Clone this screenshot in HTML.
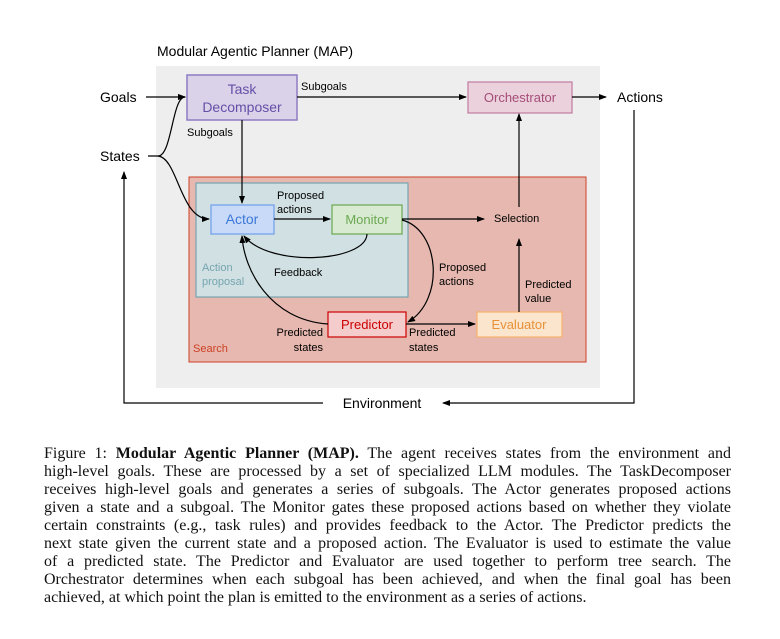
<!DOCTYPE html>
<html><head><meta charset="utf-8"><style>
body{margin:0;background:#fff;width:780px;height:639px;position:relative;overflow:hidden}
svg{position:absolute;left:0;top:0}
.cap{position:absolute;left:44px;width:687px;font-family:"Liberation Serif",serif;font-size:16px;line-height:18px;color:#111}
.cap div{text-align:justify;text-align-last:justify;white-space:nowrap;height:18px}
.cap div.l{text-align-last:left}
</style></head><body>
<svg width="780" height="639" font-family="Liberation Sans, sans-serif">
<defs><marker id="a" markerWidth="8" markerHeight="8" refX="7" refY="4" orient="auto" markerUnits="userSpaceOnUse"><path d="M0,1 L8,4 L0,7 Z" fill="#000"/></marker></defs>
<text x="157" y="56" font-size="14">Modular Agentic Planner (MAP)</text>
<rect x="156" y="66" width="444" height="322" fill="#eeeeee"/>
<rect x="189" y="177" width="397" height="185" fill="#e6b8af" stroke="#cc4125" stroke-width="1"/>
<rect x="196" y="183" width="212" height="114" fill="#d0e0e3" stroke="#76a5af" stroke-width="1.2"/>
<rect x="187" y="75" width="110" height="45" fill="#d9d2e9" stroke="#8e7cc3" stroke-width="1.5"/>
<text x="242" y="94" font-size="14" fill="#674ea7" text-anchor="middle">Task</text>
<text x="242" y="112" font-size="14" fill="#674ea7" text-anchor="middle">Decomposer</text>
<rect x="468" y="82" width="104" height="31" fill="#ead1dc" stroke="#c27ba0" stroke-width="1.2"/>
<text x="520" y="102" font-size="13" fill="#a64d79" text-anchor="middle">Orchestrator</text>
<rect x="211" y="205" width="63" height="29" fill="#c9daf8" stroke="#6d9eeb" stroke-width="1.2"/>
<text x="242" y="224" font-size="14" fill="#3c78d8" text-anchor="middle">Actor</text>
<rect x="332" y="205" width="70" height="29" fill="#d9ead3" stroke="#6aa84f" stroke-width="1.2"/>
<text x="367" y="224" font-size="13" fill="#6aa84f" text-anchor="middle">Monitor</text>
<rect x="328" y="312" width="78" height="25" fill="#f4cccc" stroke="#cc0000" stroke-width="1.2"/>
<text x="367" y="329" font-size="13" fill="#cc0000" text-anchor="middle">Predictor</text>
<rect x="477" y="312" width="85" height="25" fill="#fce5cd" stroke="#f6b26b" stroke-width="1.2"/>
<text x="519" y="329" font-size="13" fill="#e69138" text-anchor="middle">Evaluator</text>
<g font-size="14" fill="#000">
<text x="100" y="102">Goals</text>
<text x="100" y="161">States</text>
<text x="617" y="102">Actions</text>
<text x="382" y="408" text-anchor="middle">Environment</text>
</g>
<g font-size="11" fill="#000">
<text x="301" y="90">Subgoals</text>
<text x="187" y="136">Subgoals</text>
<text x="277" y="199">Proposed</text>
<text x="277" y="213">actions</text>
<text x="494" y="222">Selection</text>
<text x="274" y="276">Feedback</text>
<text x="439" y="271">Proposed</text>
<text x="439" y="285">actions</text>
<text x="525" y="288">Predicted</text>
<text x="525" y="302">value</text>
<text x="323" y="336" text-anchor="end">Predicted</text>
<text x="323" y="351" text-anchor="end">states</text>
<text x="409" y="336">Predicted</text>
<text x="409" y="351">states</text>
</g>
<text x="202" y="271" font-size="11" fill="#76a5af">Action</text>
<text x="202" y="285" font-size="11" fill="#76a5af">proposal</text>
<text x="193" y="352" font-size="11" fill="#cc4125">Search</text>
<g stroke="#000" stroke-width="1.2" fill="none">
<path d="M146,97 H185" marker-end="url(#a)"/>
<path d="M148,156 H158 C172,156 172,97 185,97" marker-end="url(#a)"/>
<path d="M158,156 C178,158 180,219 209,219" marker-end="url(#a)"/>
<path d="M297,97 H466" marker-end="url(#a)"/>
<path d="M242,120 V203" marker-end="url(#a)"/>
<path d="M572,97 H606" marker-end="url(#a)"/>
<path d="M274,219 H330" marker-end="url(#a)"/>
<path d="M402,219 H484" marker-end="url(#a)"/>
<path d="M367,234 C366,262 270,268 244,236" marker-end="url(#a)"/>
<path d="M519,207 V114" marker-end="url(#a)"/>
<path d="M519,312 V239" marker-end="url(#a)"/>
<path d="M406,324 H475" marker-end="url(#a)"/>
<path d="M402,220 C440,230 445,300 408,322" marker-end="url(#a)"/>
<path d="M328,324 C270,320 244,270 242,236" marker-end="url(#a)"/>
<path d="M323,403 H124 V172" marker-end="url(#a)"/>
<path d="M634,110 V403 H443" marker-end="url(#a)"/>
</g>
</svg>
<div class="cap" style="top:445px">
<div>Figure 1: <b>Modular Agentic Planner (MAP).</b> The agent receives states from the environment and</div>
<div>high-level goals. These are processed by a set of specialized LLM modules. The TaskDecomposer</div>
<div>receives high-level goals and generates a series of subgoals. The Actor generates proposed actions</div>
<div>given a state and a subgoal. The Monitor gates these proposed actions based on whether they violate</div>
<div>certain constraints (e.g., task rules) and provides feedback to the Actor. The Predictor predicts the</div>
<div>next state given the current state and a proposed action. The Evaluator is used to estimate the value</div>
<div>of a predicted state. The Predictor and Evaluator are used together to perform tree search. The</div>
<div>Orchestrator determines when each subgoal has been achieved, and when the final goal has been</div>
<div class="l">achieved, at which point the plan is emitted to the environment as a series of actions.</div>
</div>
</body></html>
